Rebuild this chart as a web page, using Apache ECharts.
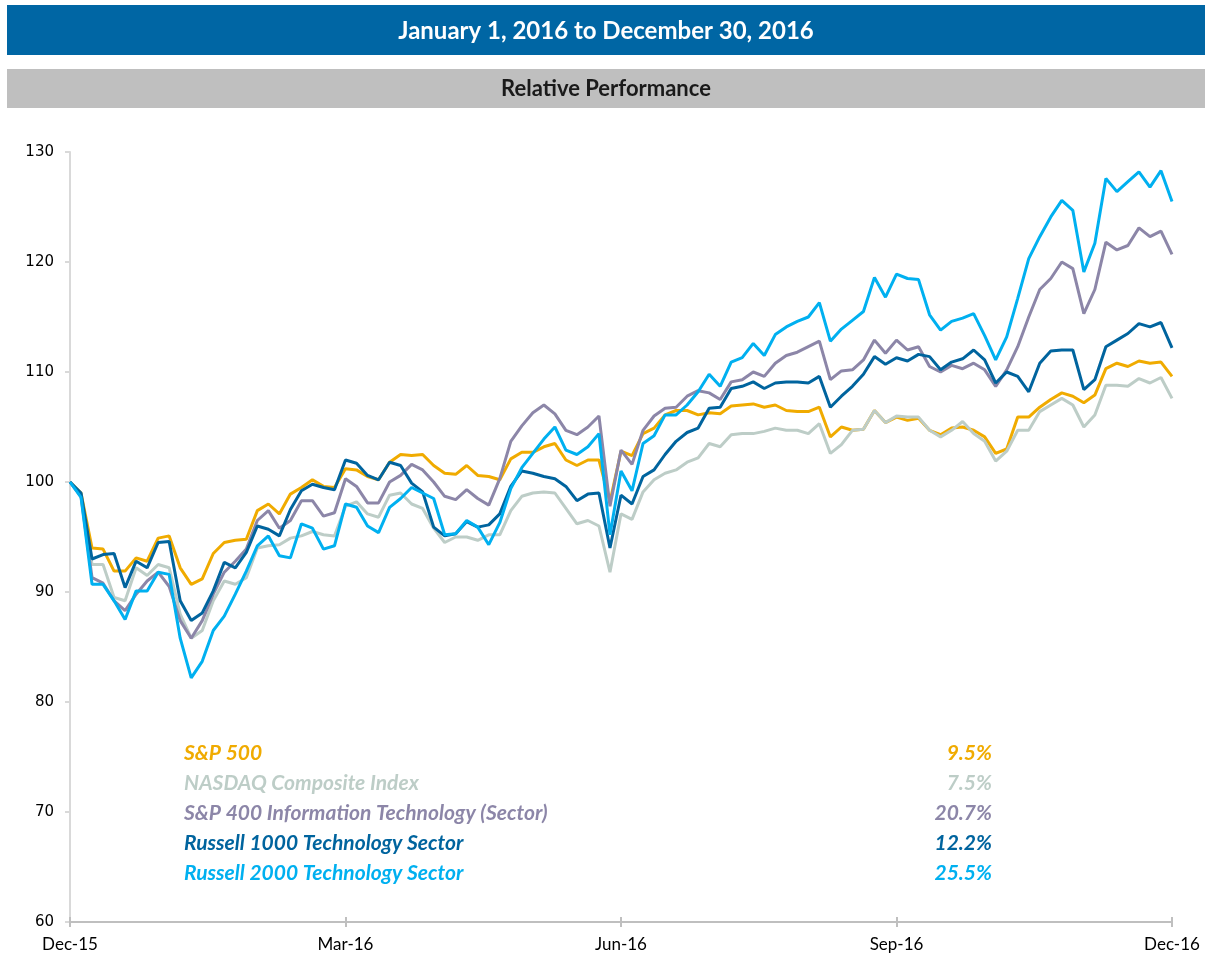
<!DOCTYPE html>
<html>
<head>
<meta charset="UTF-8">
<title>Relative Performance</title>
<script src="https://cdn.jsdelivr.net/npm/echarts@6/dist/echarts.min.js"></script>
<style>
  html, body { margin: 0; padding: 0; background: #fff; }
  #chart { width: 1205px; height: 958px; }
</style>
</head>
<body>
<div id="chart"></div>
<script>
// tick labels, one every 25 points
var tickLabels = ['Dec-15', 'Mar-16', 'Jun-16', 'Sep-16', 'Dec-16'];

var seriesNames = ['S&P 500', 'NASDAQ Composite Index', 'S&P 400 Information Technology (Sector)',
                   'Russell 1000 Technology Sector', 'Russell 2000 Technology Sector'];
var seriesReturns = ['9.5%', '7.5%', '20.7%', '12.2%', '25.5%'];
var seriesColors = ['#F0AB00', '#BDCDC7', '#8C86A8', '#00649E', '#00B0F0'];

var spx = [100, 99.0, 94.0, 93.9, 91.9, 91.9, 93.1, 92.8, 94.9, 95.1, 92.2, 90.7, 91.2, 93.5, 94.5, 94.7, 94.8, 97.4, 98.0, 97.1, 98.9, 99.5, 100.2, 99.6, 99.5, 101.2,
  101.1, 100.5, 100.2, 101.8, 102.5, 102.4, 102.5, 101.5, 100.8, 100.7, 101.5, 100.6, 100.5, 100.2, 102.1, 102.7, 102.7, 103.2, 103.5, 102.0, 101.5, 102.0, 102.0, 98.2, 102.8,
  102.4, 104.4, 104.9, 106.1, 106.5, 106.5, 106.1, 106.3, 106.2, 106.9, 107.0, 107.1, 106.8, 107.0, 106.5, 106.4, 106.4, 106.8, 104.1, 105.0, 104.7, 104.8, 106.5, 105.4, 105.9,
  105.6, 105.8, 104.7, 104.3, 104.9, 105.0, 104.7, 104.1, 102.6, 103.0, 105.9, 105.9, 106.8, 107.5, 108.1, 107.8, 107.2, 107.9, 110.3, 110.8, 110.5, 111.0, 110.8, 110.9, 109.6];

var nasdaq = [100, 98.7, 92.5, 92.5, 89.5, 89.2, 92.2, 91.5, 92.5, 92.2, 88.0, 85.8, 86.5, 89.2, 91.0, 90.7, 91.3, 94.0, 94.2, 94.3, 94.9, 95.1, 95.5, 95.2, 95.1, 97.8,
  98.2, 97.1, 96.8, 98.8, 99.0, 98.0, 97.6, 95.8, 94.5, 95.0, 95.0, 94.7, 95.2, 95.2, 97.4, 98.7, 99.0, 99.1, 99.0, 97.6, 96.2, 96.5, 96.0, 91.8, 97.1,
  96.6, 99.1, 100.2, 100.8, 101.1, 101.8, 102.2, 103.5, 103.2, 104.3, 104.4, 104.4, 104.6, 104.9, 104.7, 104.7, 104.4, 105.3, 102.6, 103.4, 104.7, 104.8, 106.5, 105.4, 106.0,
  105.9, 105.9, 104.7, 104.1, 104.7, 105.5, 104.4, 103.7, 101.9, 102.8, 104.7, 104.7, 106.4, 107.0, 107.6, 107.0, 105.0, 106.1, 108.8, 108.8, 108.7, 109.4, 109.0, 109.5, 107.6];

var sp400it = [100, 98.7, 91.3, 90.8, 89.2, 88.3, 89.8, 91.0, 91.8, 90.5, 87.4, 85.8, 87.4, 89.8, 91.8, 92.8, 93.9, 96.5, 97.4, 95.8, 96.5, 98.3, 98.3, 96.9, 97.2, 100.3,
  99.6, 98.1, 98.1, 100.0, 100.6, 101.6, 101.1, 100.0, 98.7, 98.4, 99.3, 98.5, 97.9, 100.3, 103.7, 105.1, 106.3, 107.0, 106.2, 104.7, 104.3, 105.0, 106.0, 97.8, 102.9,
  101.6, 104.7, 106.0, 106.7, 106.8, 107.8, 108.3, 108.1, 107.5, 109.1, 109.3, 110.0, 109.6, 110.8, 111.5, 111.8, 112.3, 112.8, 109.3, 110.1, 110.2, 111.1, 112.9, 111.7, 112.9,
  112.0, 112.3, 110.5, 110.0, 110.6, 110.3, 110.8, 110.2, 108.7, 110.2, 112.3, 115.0, 117.5, 118.5, 120.0, 119.4, 115.3, 117.5, 121.8, 121.1, 121.5, 123.1, 122.3, 122.8, 120.7];

var r1000tech = [100, 99.0, 93.0, 93.4, 93.5, 90.4, 92.8, 92.2, 94.5, 94.6, 89.2, 87.4, 88.1, 90.1, 92.7, 92.2, 93.6, 96.0, 95.7, 95.1, 97.5, 99.2, 99.8, 99.5, 99.3, 102.0,
  101.7, 100.6, 100.2, 101.8, 101.5, 99.9, 99.1, 95.9, 95.1, 95.3, 96.4, 95.9, 96.1, 97.1, 99.6, 101.0, 100.8, 100.5, 100.3, 99.6, 98.3, 98.9, 99.0, 94.0, 98.8,
  98.0, 100.5, 101.1, 102.5, 103.7, 104.5, 104.9, 106.7, 106.8, 108.5, 108.7, 109.1, 108.5, 109.0, 109.1, 109.1, 109.0, 109.6, 106.8, 107.8, 108.7, 109.8, 111.4, 110.7, 111.3,
  111.0, 111.6, 111.4, 110.2, 110.9, 111.2, 112.0, 111.1, 109.0, 110.0, 109.6, 108.2, 110.8, 111.9, 112.0, 112.0, 108.4, 109.3, 112.3, 112.9, 113.5, 114.4, 114.1, 114.5, 112.2];

var r2000tech = [100, 98.6, 90.7, 90.7, 89.2, 87.5, 90.1, 90.1, 91.8, 91.6, 85.8, 82.2, 83.7, 86.5, 87.8, 89.8, 91.9, 94.2, 95.1, 93.3, 93.1, 96.2, 95.8, 93.9, 94.2, 98.0,
  97.7, 96.0, 95.4, 97.7, 98.5, 99.5, 99.0, 98.5, 95.2, 95.3, 96.5, 95.9, 94.3, 96.3, 99.4, 101.3, 102.6, 103.9, 105.0, 102.9, 102.5, 103.2, 104.4, 95.2, 101.0,
  99.2, 103.5, 104.2, 106.1, 106.1, 107.0, 108.2, 109.8, 108.7, 110.9, 111.3, 112.6, 111.5, 113.4, 114.1, 114.6, 115.0, 116.3, 112.8, 113.9, 114.7, 115.5, 118.6, 116.8, 118.9,
  118.5, 118.4, 115.2, 113.8, 114.6, 114.9, 115.3, 113.3, 111.1, 113.2, 116.7, 120.3, 122.3, 124.1, 125.6, 124.7, 119.1, 121.7, 127.6, 126.4, 127.3, 128.2, 126.8, 128.3, 125.5];

var allSeries = [spx, nasdaq, sp400it, r1000tech, r2000tech];

var categories = [];
for (var i = 0; i < spx.length; i++) categories.push(String(i));

var chart = echarts.init(document.getElementById('chart'));

var graphics = [
  { type: 'rect', shape: { x: 7, y: 5, width: 1198, height: 50 }, style: { fill: '#0066A4' } },
  { type: 'text', x: 606, y: 31, style: { text: 'January 1, 2016 to December 30, 2016', fill: '#fff',
      font: 'bold 24px Lato', align: 'center', verticalAlign: 'middle' } },
  { type: 'rect', shape: { x: 7, y: 69, width: 1198, height: 39 }, style: { fill: '#BFBFBF' } },
  { type: 'text', x: 606, y: 89, style: { text: 'Relative Performance', fill: '#1a1a1a',
      font: 'bold 22px Lato', align: 'center', verticalAlign: 'middle' } }
];
seriesNames.forEach(function (name, k) {
  graphics.push({ type: 'text', x: 184, y: 753 + 30 * k, z: 10,
    style: { text: name, fill: seriesColors[k], font: 'italic bold 21px Lato', align: 'left', verticalAlign: 'middle' } });
  graphics.push({ type: 'text', x: 992, y: 753 + 30 * k, z: 10,
    style: { text: seriesReturns[k], fill: seriesColors[k], font: 'italic bold 21px Lato', align: 'right', verticalAlign: 'middle' } });
});

chart.setOption({
  animation: false,
  grid: { left: 70, right: 33, top: 152, bottom: 36 },
  graphic: graphics,
  xAxis: [{
    type: 'category',
    data: categories,
    boundaryGap: false,
    axisLine: { lineStyle: { color: '#BFBFBF', width: 2 } },
    axisTick: { interval: 24, length: 5, lineStyle: { color: '#BFBFBF', width: 2 } },
    axisLabel: {
      interval: 24, margin: 14, color: '#000', fontFamily: 'Lato', fontSize: 17,
      formatter: function (v, idx) { return tickLabels[idx / 25]; }
    }
  }, {
    type: 'category',
    data: categories,
    position: 'bottom',
    boundaryGap: false,
    axisLine: { show: false },
    axisTick: { inside: true, interval: 24, length: 5, lineStyle: { color: '#BFBFBF', width: 2 } },
    axisLabel: { show: false }
  }],
  yAxis: {
    type: 'value',
    min: 60, max: 130, interval: 10,
    axisLine: { show: true, lineStyle: { color: '#D9D9D9', width: 2 } },
    axisTick: { show: true, length: 5, lineStyle: { color: '#D9D9D9', width: 2 } },
    splitLine: { show: false },
    axisLabel: { color: '#000', fontFamily: 'DejaVu Sans', fontSize: 15, margin: 16 }
  },
  series: allSeries.map(function (vals, k) {
    return {
      name: seriesNames[k],
      type: 'line',
      data: vals,
      symbol: 'none',
      lineStyle: { color: seriesColors[k], width: 3 },
      itemStyle: { color: seriesColors[k] }
    };
  })
});
</script>
</body>
</html>
